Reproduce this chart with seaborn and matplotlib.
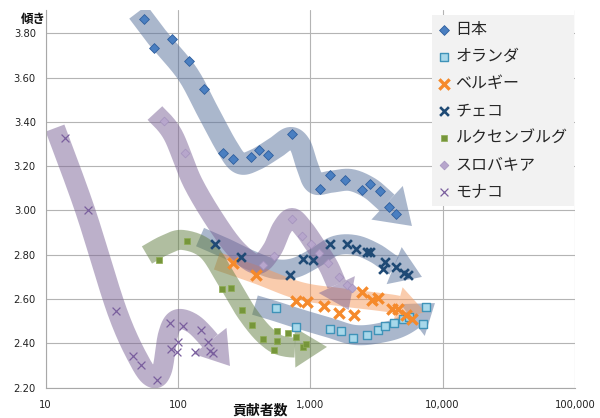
import numpy as np
import matplotlib
matplotlib.use("Agg")
import matplotlib.pyplot as plt
from matplotlib.ticker import FixedLocator, FuncFormatter, NullLocator
import seaborn as sns

# ---------- data ----------
japan_x = [55, 66, 91, 122, 157, 218, 259, 355, 408, 480, 724,
           1183, 1409, 1820, 2473, 2812, 3360, 3953, 4463]
japan_y = [3.865, 3.732, 3.776, 3.674, 3.547, 3.258, 3.232, 3.243, 3.273, 3.251, 3.344,
           3.096, 3.159, 3.136, 3.093, 3.121, 3.088, 3.017, 2.983]

nl_x = [551, 787, 1409, 1722, 2101, 2666, 3245, 3664, 4326, 5015, 5560, 7098, 7446]
nl_y = [2.558, 2.473, 2.466, 2.454, 2.423, 2.438, 2.460, 2.479, 2.493, 2.510, 2.519, 2.488, 2.566]

be_x = [262, 389, 787, 944, 1280, 1662, 2138, 2444, 2923, 3245, 4139, 4635, 5282, 5864]
be_y = [2.761, 2.711, 2.591, 2.589, 2.567, 2.536, 2.528, 2.633, 2.598, 2.605, 2.554, 2.556, 2.526, 2.510]

cz_x = [190, 298, 703, 881, 1054, 1409, 1884, 2214, 2666, 2825, 3664, 3523, 4438, 5143, 5517]
cz_y = [2.849, 2.790, 2.709, 2.780, 2.777, 2.849, 2.847, 2.828, 2.814, 2.814, 2.769, 2.736, 2.747, 2.720, 2.709]

lu_x = [72, 117, 214, 252, 303, 366, 440, 529, 557, 560, 682, 780, 876, 928]
lu_y = [2.777, 2.864, 2.644, 2.650, 2.551, 2.483, 2.419, 2.370, 2.457, 2.413, 2.446, 2.429, 2.384, 2.399]

sk_x = [79, 114, 437, 532, 734, 861, 1007, 1174, 1361, 1648, 1884, 2055]
sk_y = [3.404, 3.261, 2.756, 2.793, 2.962, 2.884, 2.848, 2.808, 2.762, 2.701, 2.664, 2.649]

mc_x = [14.0, 21.0, 34.1, 46.0, 52.4, 69.2, 87.1, 88.2, 99.7, 97.9, 110, 135, 149.5, 170, 175, 185]
mc_y = [3.326, 3.002, 2.546, 2.344, 2.302, 2.235, 2.491, 2.375, 2.405, 2.363, 2.479, 2.360, 2.460, 2.408, 2.367, 2.355]

# hand-drawn trend arrows: waypoints in data units (contributors, slope)
arrow_japan = ([50, 69.5, 117, 166, 235, 294, 382, 541, 703, 836, 944, 1085, 1409, 1995, 2729, 3479, 5865],
               [3.896, 3.783, 3.621, 3.454, 3.287, 3.214, 3.228, 3.282, 3.327, 3.296, 3.205, 3.124, 3.129, 3.138, 3.106, 3.056, 2.930])
arrow_czech = ([147, 227, 350, 541, 766, 1085, 1537, 2176, 3082, 4363, 6978],
               [2.880, 2.831, 2.777, 2.736, 2.741, 2.786, 2.840, 2.844, 2.808, 2.749, 2.700])
arrow_belgium = ([197, 396, 836, 1675, 3360, 4759, 7350],
                 [2.772, 2.709, 2.637, 2.609, 2.587, 2.573, 2.542])
arrow_nl = ([382, 541, 836, 1409, 2176, 3360, 5192, 8750],
            [2.573, 2.546, 2.510, 2.470, 2.438, 2.447, 2.483, 2.582])
arrow_lux = ([58.4, 80, 109, 166, 235, 332, 471, 667, 1337],
             [2.799, 2.844, 2.867, 2.822, 2.686, 2.537, 2.429, 2.384, 2.384])
arrow_sk = ([67.1, 91.8, 130, 208, 294, 403, 514, 611, 728, 881, 1085, 1360, 1591, 1950],
            [3.440, 3.341, 3.124, 2.921, 2.808, 2.758, 2.822, 2.921, 2.966, 2.921, 2.844, 2.754, 2.664, 2.551])
arrow_mc = ([11.8, 19.9, 34.7, 51.7, 64.9, 75.9, 84.2, 96.7, 123.4, 160.2, 247.5],
            [3.372, 3.002, 2.546, 2.316, 2.244, 2.280, 2.438, 2.506, 2.497, 2.438, 2.298])

y_ticks = [2.2, 2.4, 2.6, 2.8, 3.0, 3.2, 3.4, 3.6, 3.8]
x_ticks = [10, 100, 1000, 10000, 100000]


def catmull_rom(p, n=20):
    p = np.vstack([p[0], p, p[-1]])
    t = np.linspace(0, 1, n, endpoint=False)[:, None]
    out = []
    for i in range(1, len(p) - 2):
        p0, p1, p2, p3 = p[i - 1], p[i], p[i + 1], p[i + 2]
        out.append(0.5 * (2 * p1 + (p2 - p0) * t
                          + (2 * p0 - 5 * p1 + 4 * p2 - p3) * t ** 2
                          + (3 * p1 - p0 - 3 * p2 + p3) * t ** 3))
    out.append(p[-2][None])
    return np.vstack(out)


def draw_arrow(ax, way, color, width=20, head_w=44, head_l=30, alpha=0.5):
    pts = ax.transData.transform(np.column_stack(way))
    curve = catmull_rom(pts)
    tip = curve[-1]
    dist = np.hypot(*(curve - tip).T)
    k = np.nonzero(dist >= head_l)[0][-1]
    u = (tip - curve[k]) / np.hypot(*(tip - curve[k]))
    nrm = np.array([-u[1], u[0]])
    base = tip - u * head_l
    line = np.vstack([curve[:k + 1], base])
    tri = np.vstack([base + nrm * head_w / 2, tip, base - nrm * head_w / 2])
    inv = ax.transData.inverted()
    ld, td = inv.transform(line), inv.transform(tri)
    ax.plot(ld[:, 0], ld[:, 1], color=color, alpha=alpha, lw=width * 72 / ax.figure.dpi,
            solid_capstyle="butt", solid_joinstyle="round", zorder=2)
    ax.fill(td[:, 0], td[:, 1], color=color, alpha=alpha, lw=0, zorder=2)


# ---------- figure ----------
sns.set_theme(style="white")
plt.rcParams["font.family"] = ["Noto Sans CJK JP", "DejaVu Sans"]

fig = plt.figure(figsize=(6.0, 4.18), dpi=100)
ax = fig.add_axes([45.5 / 600, 30.3 / 418, 529.5 / 600, 377.7 / 418])
ax.set_xscale("log")
ax.set_xlim(10, 100000)
ax.set_ylim(2.2, 3.905)

ax.yaxis.set_major_locator(FixedLocator(y_ticks))
ax.yaxis.set_major_formatter(FuncFormatter(lambda v, _: f"{v:.2f}"))
ax.xaxis.set_major_locator(FixedLocator(x_ticks))
ax.xaxis.set_minor_locator(NullLocator())
ax.xaxis.set_major_formatter(FuncFormatter(lambda v, _: f"{int(round(v)):,}"))
ax.grid(True, color="#b4b4b4", lw=0.8)
ax.set_axisbelow(True)
for side in ["top", "right"]:
    ax.spines[side].set_visible(False)
for side in ["left", "bottom"]:
    ax.spines[side].set_color("#a8a8a8")
    ax.spines[side].set_linewidth(0.8)
ax.tick_params(axis="both", labelsize=7.2, colors="#a8a8a8", labelcolor="#222222",
               length=3, width=0.8, direction="out", pad=4)
ax.tick_params(axis="x", pad=6)
for lab in ax.get_xticklabels() + ax.get_yticklabels():
    lab.set_family("DejaVu Sans")

# trend arrows
draw_arrow(ax, arrow_japan, "#56709b", width=22, head_w=46, head_l=34)
draw_arrow(ax, arrow_czech, "#56709b", width=20, head_w=40, head_l=30)
draw_arrow(ax, arrow_nl, "#56709b", width=20, head_w=40, head_l=28)
draw_arrow(ax, arrow_belgium, "#f79a5c", width=18, head_w=36, head_l=28)
draw_arrow(ax, arrow_lux, "#627f42", width=20, head_w=40, head_l=32)
draw_arrow(ax, arrow_sk, "#7b6396", width=20, head_w=40, head_l=28)
draw_arrow(ax, arrow_mc, "#7b6396", width=20, head_w=42, head_l=32)

# series
sns.scatterplot(x=japan_x, y=japan_y, ax=ax, marker="D", s=25, color="#4a7fc1",
                edgecolor="#2f5f9e", linewidth=0.6, label="日本", zorder=4)
sns.scatterplot(x=nl_x, y=nl_y, ax=ax, marker="s", s=32, color="#a8d8ea",
                edgecolor="#3f93b8", linewidth=1.0, label="オランダ", zorder=4)
sns.scatterplot(x=be_x, y=be_y, ax=ax, marker="x", s=55, color="#f58a2c",
                linewidth=2.4, label="ベルギー", zorder=4)
sns.scatterplot(x=cz_x, y=cz_y, ax=ax, marker="x", s=40, color="#1f4a75",
                linewidth=1.9, label="チェコ", zorder=4)
sns.scatterplot(x=lu_x, y=lu_y, ax=ax, marker="s", s=21, color="#76963a",
                edgecolor="#8fac55", linewidth=0.5, label="ルクセンブルグ", zorder=4)
sns.scatterplot(x=sk_x, y=sk_y, ax=ax, marker="D", s=20, color="#b7a6cc",
                edgecolor="#a391bd", linewidth=0.5, label="スロバキア", zorder=4)
sns.scatterplot(x=mc_x, y=mc_y, ax=ax, marker="x", s=32, color="#7a5f9e",
                linewidth=0.9, label="モナコ", zorder=4)

leg = ax.legend(loc="upper right", bbox_to_anchor=(0.998, 0.987), frameon=True,
                facecolor="#f2f2f2", edgecolor="none", fancybox=False, framealpha=1,
                fontsize=11.5, handlelength=0.7, handletextpad=0.35, labelspacing=0.62,
                borderpad=0.4, borderaxespad=0)
leg.set_zorder(6)

fig.text(33 / 600, 1 - 19 / 418, "傾き", ha="center", va="center",
         fontsize=9, fontweight="bold", color="#111111")
fig.text(260 / 600, 1 - 410 / 418, "貢献者数", ha="center", va="center",
         fontsize=10, fontweight="bold", color="#111111")

fig.savefig("out.png", dpi=100)
plt.close(fig)
